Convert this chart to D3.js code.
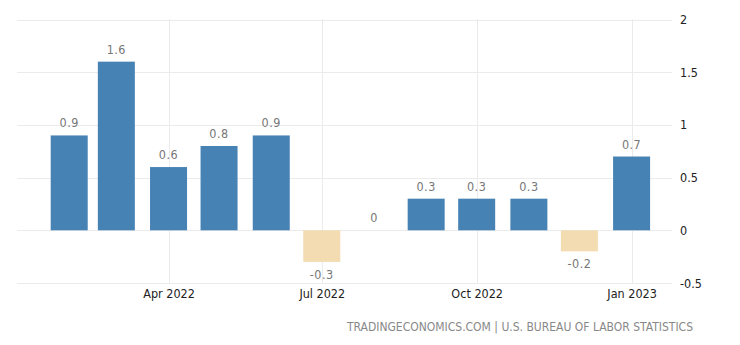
<!DOCTYPE html>
<html><head><meta charset="utf-8">
<script src="https://cdn.jsdelivr.net/npm/d3@7"></script>
<style>
html,body{margin:0;padding:0;background:#fff;}
svg{display:block;font-family:"DejaVu Sans Condensed","DejaVu Sans",sans-serif;}
</style></head>
<body><svg id="c" width="740" height="345"></svg>
<script>
const months = ["2022-02","2022-03","2022-04","2022-05","2022-06","2022-07","2022-08","2022-09","2022-10","2022-11","2022-12","2023-01"];
const values = [0.9, 1.6, 0.6, 0.8, 0.9, -0.3, 0, 0.3, 0.3, 0.3, -0.2, 0.7];
const yTicks = [2, 1.5, 1, 0.5, 0, -0.5];
const xTickDates = ["2022-04","2022-07","2022-10","2023-01"];
const xTickLabels = ["Apr 2022","Jul 2022","Oct 2022","Jan 2023"];
const sourceText = "TRADINGECONOMICS.COM | U.S. BUREAU OF LABOR STATISTICS";

const fmt = v => String(v);
const parse = d3.utcParse("%Y-%m");
const svg = d3.select("#c");
const x = d3.scaleUtc().domain([new Date(Date.UTC(2022,0,1)), new Date(Date.UTC(2023,0,25))]).range([17, 672]);
const y = d3.scaleLinear().domain([-0.5, 2]).range([283, 19.5]);
const barW = 37;

// horizontal grid
svg.append("g").selectAll("line").data(yTicks).join("line")
  .attr("x1", 17).attr("x2", 672)
  .attr("y1", d => Math.round(y(d)) + 0.5).attr("y2", d => Math.round(y(d)) + 0.5)
  .attr("stroke", "#ebebeb").attr("stroke-width", 1);
// vertical grid
svg.append("g").selectAll("line").data(xTickDates).join("line")
  .attr("x1", d => Math.round(x(parse(d))) + 0.5).attr("x2", d => Math.round(x(parse(d))) + 0.5)
  .attr("y1", 19).attr("y2", 283)
  .attr("stroke", "#ebebeb").attr("stroke-width", 1);

// y axis labels (right)
const yAxis = d3.axisRight(y).tickValues(yTicks).tickSize(0).tickPadding(0).tickFormat(fmt);
const ga = svg.append("g").attr("transform", "translate(680,0)").call(yAxis);
ga.select(".domain").remove();
ga.selectAll("text").attr("font-size", 12.5).attr("fill", "#222").attr("font-family", "DejaVu Sans Condensed, DejaVu Sans, sans-serif");

// x axis labels
const xAxis = d3.axisBottom(x).tickValues(xTickDates.map(parse)).tickSize(0).tickPadding(0)
  .tickFormat((d, i) => xTickLabels[i]);
const gx = svg.append("g").attr("transform", "translate(0,289)").call(xAxis);
gx.select(".domain").remove();
gx.selectAll("text").attr("font-size", 12.5).attr("fill", "#222").attr("font-family", "DejaVu Sans Condensed, DejaVu Sans, sans-serif");

const data = months.map((m, i) => ({date: parse(m), v: values[i]}));
// bars
svg.append("g").selectAll("rect").data(data).join("rect")
  .attr("x", d => x(d.date) - barW / 2)
  .attr("width", barW)
  .attr("y", d => y(Math.max(0, d.v)))
  .attr("height", d => Math.abs(y(d.v) - y(0)))
  .attr("fill", d => d.v < 0 ? "#f3dcb1" : "#4682b4");

// value labels
svg.append("g").selectAll("text").data(data).join("text")
  .attr("x", d => x(d.date))
  .attr("y", d => d.v < 0 ? y(d.v) + 17 : y(d.v) - 8)
  .attr("text-anchor", "middle")
  .attr("font-size", 12.5).attr("fill", "#777").attr("letter-spacing", 0.5)
  .text(d => fmt(d.v));

// source
svg.append("text").attr("x", 693).attr("y", 331).attr("text-anchor", "end")
  .attr("font-size", 12).attr("fill", "#888").text(sourceText);
</script></body></html>
